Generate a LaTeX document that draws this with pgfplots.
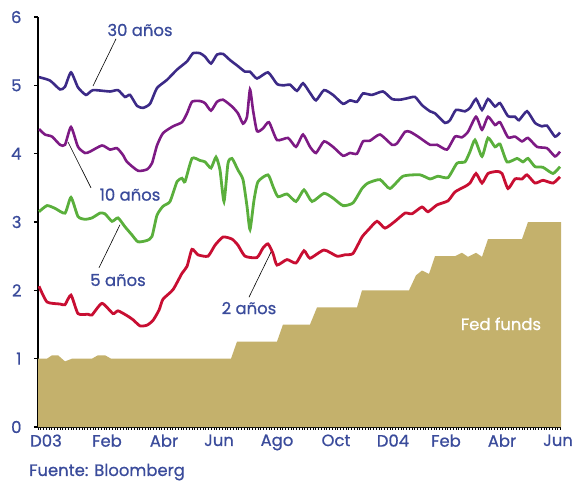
\documentclass[border=0pt]{standalone}
\usepackage{pgfplots}
\pgfplotsset{compat=1.18}
\usepackage{fontspec}
\setmainfont{Poppins}[FakeBold=0.8]
\definecolor{txtblue}{RGB}{58,75,155}
\definecolor{cthirty}{RGB}{60,42,135}
\definecolor{cten}{RGB}{125,26,132}
\definecolor{cfive}{RGB}{90,175,60}
\definecolor{ctwo}{RGB}{200,14,50}
\definecolor{fedtan}{RGB}{196,177,108}
\begin{document}
\begin{tikzpicture}
\begin{axis}[
  at={(38bp,54bp)}, anchor=south west,
  scale only axis, width=523bp, height=410bp,
  xmin=38, xmax=561, ymin=0, ymax=6,
  axis x line=bottom, axis y line=left,
  axis line style={-, line width=1.6bp, black},
  xtick={46,107,164,219,277,336,393,446,502,558},
  xticklabels={D03,Feb,Abr,Jun,Ago,Oct,D04,Feb,Abr,Jun},
  minor xtick={38,40.75,...,561},
  major x tick style={draw=none},
  minor tick length=2.5bp,
  minor x tick style={line width=0.8bp, black},
  ytick={0,1,2,3,4,5,6},
  major tick length=4bp,
  tick align=outside,
  y tick style={line width=1.2bp, black},
  tick label style={font=\fontsize{16.5}{19}\selectfont, text=txtblue},
  /pgf/number format/assume math mode=true,
  yticklabel style={xshift=-9bp},
  clip=false,
]
% Fed funds
\addplot[fill=fedtan, draw=none] coordinates {
(38,1.00)(47,1.00)(52,1.05)(58,1.05)(65,0.96)(72,1.00)(92,1.00)(98,1.05)(105,1.05)(111,1.00)
(231,1.00)(237,1.25)(277,1.25)(283,1.50)(310,1.50)(317,1.75)(357,1.75)(362,2.00)(409,2.00)
(416,2.22)(422,2.29)(429,2.24)(435,2.50)(455,2.50)(462,2.55)(468,2.49)(476,2.55)(482,2.49)
(488,2.75)(522,2.75)(528,3.00)(561,3.00)} \closedcycle;
% 30 años
\addplot[cthirty, line width=2.6bp, smooth, tension=0.35] coordinates {
(39,5.12)(50,5.07)(60,4.94)(65,4.98)(71,5.19)(78,4.97)(86,4.86)(93,4.93)(110,4.91)(118,4.93)
(125,4.83)(130,4.86)(137,4.70)(143,4.67)(150,4.73)(157,4.96)(167,5.08)(177,5.23)(187,5.35)
(193,5.47)(200,5.47)(205,5.42)(211,5.32)(217,5.45)(223,5.46)(230,5.37)(238,5.28)(245,5.20)
(250,5.20)(257,5.10)(268,5.19)(277,5.02)(284,5.00)(290,5.01)(297,4.92)(303,5.03)(310,4.89)
(316,4.78)(324,4.93)(333,4.86)(343,4.73)(350,4.78)(357,4.76)(363,4.88)(372,4.86)(383,4.91)
(392,4.80)(400,4.79)(407,4.81)(415,4.83)(422,4.71)(430,4.62)(435,4.59)(445,4.45)(450,4.49)
(456,4.64)(465,4.62)(470,4.67)(476,4.80)(482,4.64)(488,4.80)(495,4.69)(500,4.74)(508,4.55)
(515,4.54)(519,4.49)(527,4.62)(535,4.45)(542,4.40)(547,4.41)(555,4.25)(560,4.31)};
% 10 años
\addplot[cten, line width=2.6bp, smooth, tension=0.35] coordinates {
(39,4.36)(45,4.28)(52,4.25)(60,4.13)(65,4.13)(71,4.39)(78,4.10)(85,4.01)(90,4.03)(102,4.12)
(110,4.06)(117,4.08)(123,3.98)(127,3.88)(138,3.75)(147,3.77)(152,3.86)(157,4.12)(163,4.30)
(173,4.40)(182,4.46)(187,4.59)(192,4.76)(200,4.77)(205,4.74)(211,4.63)(217,4.76)(223,4.79)
(232,4.69)(238,4.59)(243,4.44)(247,4.54)(250,4.94)(253,4.64)(257,4.33)(263,4.37)(269,4.46)
(277,4.20)(288,4.23)(296,4.10)(303,4.28)(310,4.10)(316,4.01)(324,4.18)(333,4.10)(343,3.97)
(350,4.01)(357,4.00)(363,4.18)(370,4.19)(380,4.28)(392,4.13)(397,4.15)(405,4.32)(410,4.32)
(418,4.25)(430,4.13)(437,4.13)(447,4.06)(455,4.25)(462,4.24)(468,4.32)(476,4.54)(482,4.35)
(488,4.54)(495,4.42)(500,4.46)(508,4.24)(515,4.25)(522,4.18)(528,4.23)(537,4.10)(547,4.08)
(555,3.96)(560,4.03)};
% 5 años
\addplot[cfive, line width=2.8bp, smooth, tension=0.35] coordinates {
(39,3.15)(47,3.24)(55,3.20)(65,3.13)(71,3.36)(78,3.08)(85,3.04)(92,3.06)(100,3.13)(105,3.12)
(112,3.01)(118,3.06)(125,2.93)(132,2.81)(138,2.71)(147,2.73)(152,2.79)(157,3.10)(163,3.23)
(170,3.30)(177,3.59)(182,3.64)(185,3.59)(192,3.93)(200,3.90)(205,3.88)(211,3.79)(216,3.95)
(220,3.76)(224,3.30)(228,3.86)(232,3.93)(238,3.76)(243,3.62)(247,3.23)(250,2.89)(254,3.32)
(258,3.59)(268,3.69)(273,3.52)(278,3.37)(287,3.41)(296,3.30)(304,3.47)(312,3.30)(324,3.42)
(333,3.35)(343,3.24)(353,3.28)(362,3.49)(368,3.57)(380,3.62)(390,3.49)(403,3.67)(420,3.69)
(430,3.63)(438,3.67)(448,3.65)(457,3.86)(465,3.88)(470,4.03)(475,4.20)(482,3.96)(488,4.23)
(495,4.10)(500,4.14)(507,3.88)(517,3.93)(523,3.88)(528,3.93)(535,3.81)(543,3.80)(553,3.71)
(560,3.81)};
% 2 años
\addplot[ctwo, line width=2.8bp, smooth, tension=0.35] coordinates {
(39,2.06)(47,1.83)(60,1.80)(65,1.79)(71,1.93)(78,1.66)(88,1.65)(92,1.64)(102,1.81)(113,1.66)
(118,1.70)(127,1.63)(133,1.57)(140,1.48)(147,1.49)(153,1.56)(159,1.71)(163,1.87)(173,2.01)
(182,2.25)(187,2.35)(192,2.60)(198,2.52)(208,2.50)(215,2.66)(223,2.78)(232,2.75)(238,2.66)
(245,2.50)(257,2.48)(263,2.62)(268,2.68)(273,2.54)(277,2.37)(287,2.45)(296,2.40)(304,2.58)
(310,2.47)(324,2.59)(337,2.50)(345,2.52)(353,2.54)(362,2.78)(368,2.88)(377,3.01)(385,2.91)
(395,3.01)(405,3.13)(412,3.12)(422,3.22)(428,3.15)(437,3.25)(448,3.31)(455,3.44)(465,3.52)
(470,3.57)(476,3.71)(482,3.57)(488,3.71)(497,3.74)(502,3.71)(508,3.49)(515,3.63)(522,3.63)
(527,3.69)(535,3.57)(543,3.61)(553,3.57)(560,3.66)};
% labels and leaders
\draw[black, line width=0.6bp] (axis cs:116,5.68) -- (axis cs:93,4.99);
\draw[black, line width=0.6bp] (axis cs:68,4.17) -- (axis cs:91,3.50);
\draw[black, line width=0.6bp] (axis cs:99,2.33) -- (axis cs:120,2.96);
\draw[black, line width=0.6bp] (axis cs:249,1.90) -- (axis cs:271,2.56);
\node[text=txtblue, font=\fontsize{16.5}{19}\selectfont] at (axis cs:140,5.81) {30 años};
\node[text=txtblue, font=\fontsize{16.5}{19}\selectfont] at (axis cs:130,3.40) {10 años};
\node[text=txtblue, font=\fontsize{16.5}{19}\selectfont] at (axis cs:118,2.15) {5 años};
\node[text=txtblue, font=\fontsize{16.5}{19}\selectfont] at (axis cs:249,1.74) {2 años};
\node[text=white, font=\fontsize{16.5}{19}\selectfont] at (axis cs:501,1.51) {Fed funds};
\node[anchor=west, inner sep=0pt, text=txtblue, font=\fontsize{16.5}{19}\selectfont] at (axis cs:29,-0.66) {Fuente: Bloomberg};
\end{axis}
\pgfresetboundingbox
\useasboundingbox (0,0) rectangle (574bp,481bp);
\end{tikzpicture}
\end{document}
